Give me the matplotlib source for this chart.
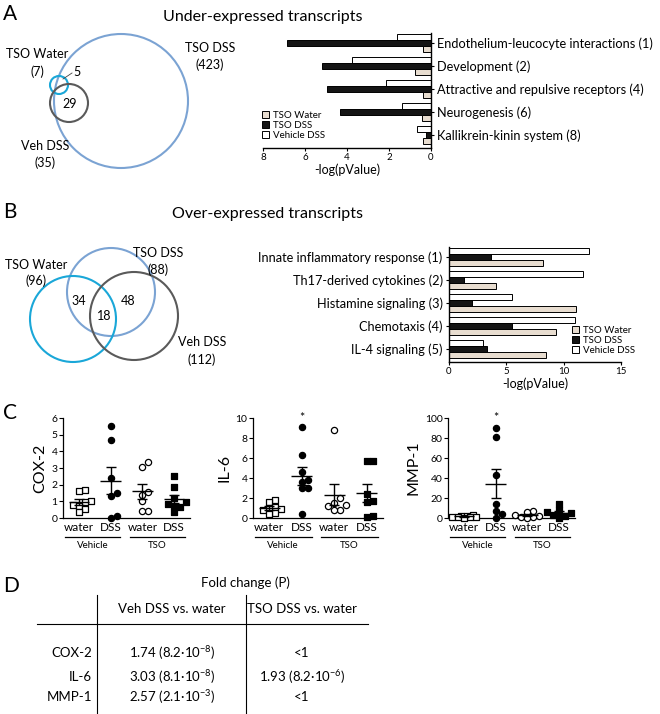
import matplotlib
matplotlib.use("Agg")
import matplotlib.pyplot as plt
import matplotlib.transforms as mtrans
from matplotlib.patches import Circle, Patch
import numpy as np

plt.rcParams['font.family'] = ['Lato', 'DejaVu Sans']
plt.rcParams['mathtext.default'] = 'regular'

# ---------------- data ----------------
# A: under-expressed pathways, -log(pValue)
cats_a = ['Endothelium-leucocyte interactions (1)', 'Development (2)',
          'Attractive and repulsive receptors (4)', 'Neurogenesis (6)',
          'Kallikrein-kinin system (8)']
a_tso_water = [0.38, 0.76, 0.38, 0.43, 0.38]
a_tso_dss = [6.85, 5.2, 4.95, 4.33, 0.24]
a_veh_dss = [1.6, 3.76, 2.14, 1.38, 0.67]

# B: over-expressed pathways, -log(pValue)
cats_b = ['Innate inflammatory response (1)', 'Th17-derived cytokines (2)',
          'Histamine signaling (3)', 'Chemotaxis (4)', 'IL-4 signaling (5)']
b_tso_water = [8.2, 4.1, 11.1, 9.3, 8.5]
b_tso_dss = [3.7, 1.3, 2.0, 5.5, 3.3]
b_veh_dss = [12.2, 11.7, 5.5, 11.0, 3.0]

# C: qPCR fold changes per mouse (Vehicle water, Vehicle DSS, TSO water, TSO DSS)
cox2 = [[1.7, 1.65, 1.05, 0.95, 0.8, 0.75, 0.55, 0.35],
        [5.5, 4.7, 2.4, 1.5, 1.3, 0.15, 0.02],
        [3.35, 3.05, 1.55, 1.4, 1.0, 0.45, 0.45],
        [2.5, 1.85, 1.2, 0.95, 0.85, 0.75, 0.65, 0.35]]
il6 = [[1.8, 1.6, 1.1, 1.0, 0.9, 0.8, 0.5, 0.4],
       [9.1, 6.3, 4.6, 3.8, 3.6, 3.0, 3.0, 0.45],
       [8.8, 2.0, 1.5, 1.3, 1.25, 0.8, 0.8],
       [5.7, 5.7, 2.4, 1.7, 1.6, 0.2, 0.1]]
mmp1 = [[3.0, 2.5, 2.0, 1.5, 1.5, 1.0, 1.0, 0.5],
        [90, 81, 43, 14, 7, 4.5, 0.5],
        [7, 6.5, 3.5, 2.5, 1.5, 1.0, 0.5],
        [14, 8, 6, 5, 3, 2, 0.5]]
group_ticks = ['water', 'DSS', 'water', 'DSS']

# D: fold change table
table_rows = ['COX-2', 'IL-6', 'MMP-1']
table_cols = ['Veh DSS vs. water', 'TSO DSS vs. water']
table_veh = ['1.74 (8.2·10$^{-8}$)', '3.03 (8.1·10$^{-8}$)', '2.57 (2.1·10$^{-3}$)']
table_tso = ['<1', '1.93 (8.2·10$^{-6}$)', '<1']

# ---------------- figure ----------------
W, H = 660, 714
fig = plt.figure(figsize=(W / 100, H / 100), dpi=100)

def px_axes(l, t, r, b):
    return fig.add_axes([l / W, 1 - b / H, (r - l) / W, (b - t) / H])

ov = fig.add_axes([0, 0, 1, 1])
ov.set_xlim(0, W)
ov.set_ylim(H, 0)
ov.axis('off')

BEIGE = '#e8ddd0'
CYAN = '#1aa7d8'
LBLUE = '#7ba3d3'
DGRAY = '#5a5a5a'

# panel letters and titles
for letter, (x, y) in zip('ABCD', [(3, 14), (3, 212), (3, 413), (3, 586)]):
    ov.text(x, y, letter, fontsize=15, va='center', ha='left')
ov.text(263, 17, 'Under-expressed transcripts', fontsize=11.5, ha='center', va='center')
ov.text(267, 214, 'Over-expressed transcripts', fontsize=11.5, ha='center', va='center')

# ---- Venn A ----
for (cx, cy, r, col) in [(121, 101, 67, LBLUE), (59, 85, 9, CYAN), (69, 103, 19, DGRAY)]:
    ov.add_patch(Circle((cx, cy), r, fill=False, ec=col, lw=1.5))
vfs = 9
ov.text(37, 54, 'TSO Water', fontsize=vfs, ha='center', va='center')
ov.text(37, 72, '(7)', fontsize=vfs, ha='center', va='center')
ov.text(210, 48, 'TSO DSS', fontsize=vfs, ha='center', va='center')
ov.text(210, 65, '(423)', fontsize=vfs, ha='center', va='center')
ov.text(45, 146, 'Veh DSS', fontsize=vfs, ha='center', va='center')
ov.text(45, 163, '(35)', fontsize=vfs, ha='center', va='center')
ov.text(70, 104, '29', fontsize=vfs, ha='center', va='center')
ov.text(77, 72, '5', fontsize=vfs, ha='center', va='center')
ov.plot([63, 72], [79, 73], color='#444444', lw=0.6)

# ---- Venn B ----
for (cx, cy, r, col) in [(111, 292, 44, LBLUE), (73, 319, 43, CYAN), (134, 316, 44, DGRAY)]:
    ov.add_patch(Circle((cx, cy), r, fill=False, ec=col, lw=1.5))
ov.text(36, 265, 'TSO Water', fontsize=vfs, ha='center', va='center')
ov.text(36, 281, '(96)', fontsize=vfs, ha='center', va='center')
ov.text(158, 253, 'TSO DSS', fontsize=vfs, ha='center', va='center')
ov.text(158, 270, '(88)', fontsize=vfs, ha='center', va='center')
ov.text(202, 342, 'Veh DSS', fontsize=vfs, ha='center', va='center')
ov.text(202, 360, '(112)', fontsize=vfs, ha='center', va='center')
ov.text(79, 301, '34', fontsize=vfs, ha='center', va='center')
ov.text(128, 301, '48', fontsize=vfs, ha='center', va='center')
ov.text(104, 316, '18', fontsize=vfs, ha='center', va='center')

# ---- bar charts ----
def pathway_bars(ax, cats, water, dss, veh):
    y = np.arange(len(cats))
    off, h = 0.26, 0.22
    ax.barh(y - off, veh, height=h, color='white', edgecolor='black', lw=0.7)
    ax.barh(y, dss, height=h, color='#151515', edgecolor='black', lw=0.7)
    ax.barh(y + off, water, height=h, color=BEIGE, edgecolor='black', lw=0.7)
    ax.set_ylim(len(cats) - 0.435, -0.435)
    ax.set_yticks(y)
    ax.set_yticklabels(cats, fontsize=9.2)
    ax.spines['top'].set_visible(False)
    ax.tick_params(axis='x', labelsize=7, length=2.5, pad=1, width=0.8)
    ax.tick_params(axis='y', length=2.5, pad=2, width=0.8)
    for s in ax.spines.values():
        s.set_linewidth(1.0)
    ax.set_xlabel('-log(pValue)', fontsize=9, labelpad=1.5)
    ax.patch.set_alpha(0)

legend_handles = [Patch(facecolor=BEIGE, edgecolor='black', lw=0.7, label='TSO Water'),
                  Patch(facecolor='#151515', edgecolor='black', lw=0.7, label='TSO DSS'),
                  Patch(facecolor='white', edgecolor='black', lw=0.7, label='Vehicle DSS')]
leg_kw = dict(frameon=False, fontsize=7, handlelength=0.7, handleheight=0.7,
              handletextpad=0.4, labelspacing=0.1, borderpad=0, borderaxespad=0)

axa = px_axes(263, 33, 431, 148)
pathway_bars(axa, cats_a, a_tso_water, a_tso_dss, a_veh_dss)
axa.set_xlim(8, 0)
axa.set_xticks([8, 6, 4, 2, 0])
axa.spines['left'].set_visible(False)
axa.yaxis.tick_right()
fig.legend(handles=legend_handles, loc='upper left',
           bbox_to_anchor=(262 / W, 1 - 111 / H), **leg_kw)

axb = px_axes(449, 247, 621, 362)
pathway_bars(axb, cats_b, b_tso_water, b_tso_dss, b_veh_dss)
axb.set_xlim(0, 15)
axb.set_xticks([0, 5, 10, 15])
axb.spines['right'].set_visible(False)
fig.legend(handles=legend_handles, loc='upper left',
           bbox_to_anchor=(572 / W, 1 - 326 / H), **leg_kw)

# ---- dot plots ----
def swarm(vals, px_y, px_x, d=6.0, max_px=13):
    vals = np.asarray(vals, float)
    placed = []
    off = np.zeros(len(vals))
    cands = [0.0]
    k = 1
    while k * d * 0.5 <= max_px:
        cands += [k * d * 0.5, -k * d * 0.5]
        k += 1
    for i in np.argsort(vals):
        yy = vals[i] * px_y
        best, best_gap = 0.0, -1
        for c in cands:
            gap = min([np.hypot(c - px, yy - py) for px, py in placed] + [1e9])
            if gap >= d:
                best = c
                break
            if gap > best_gap:
                best, best_gap = c, gap
        placed.append((best, yy))
        off[i] = best
    return off / px_x

styles = [('s', 'white'), ('o', 'black'), ('o', 'white'), ('s', 'black')]

def dot_panel(box, groups, ymax, yticks, ylabel, star=False):
    ax = px_axes(*box)
    xlim = (-0.5, 3.5)
    px_x = (box[2] - box[0]) / (xlim[1] - xlim[0])
    px_y = (box[3] - box[1]) / ymax
    for i, (vals, (mk, fc)) in enumerate(zip(groups, styles)):
        v = np.array(vals, float)
        xs = i + swarm(v, px_y, px_x)
        ax.scatter(xs, v, marker=mk, s=20, facecolor=fc, edgecolor='black',
                   lw=0.9, clip_on=False, zorder=3)
        m = v.mean()
        se = v.std(ddof=1) / np.sqrt(len(v))
        ax.hlines(m, i - 0.32, i + 0.32, color='black', lw=1.0, zorder=4)
        ax.errorbar(i, m, yerr=se, fmt='none', ecolor='black', elinewidth=1.0,
                    capsize=3.5, capthick=1.0, zorder=4)
    ax.set_xlim(*xlim)
    ax.set_ylim(0, ymax)
    ax.set_yticks(yticks)
    ax.set_xticks(range(4))
    ax.set_xticklabels(group_ticks, fontsize=8.5)
    ax.tick_params(axis='x', length=0, pad=3)
    ax.tick_params(axis='y', labelsize=7.5, length=3, pad=1, width=0.8)
    for s in ['top', 'right']:
        ax.spines[s].set_visible(False)
    for s in ['left', 'bottom']:
        ax.spines[s].set_linewidth(0.9)
    ax.set_ylabel(ylabel, fontsize=11.5, labelpad=3)
    tr = mtrans.blended_transform_factory(ax.transData, ax.transAxes)
    for (a, b), name in zip([(-0.45, 1.3), (1.6, 3.35)], ['Vehicle', 'TSO']):
        ax.plot([a, b], [-0.19, -0.19], color='black', lw=0.9, transform=tr, clip_on=False)
        ax.text((a + b) / 2, -0.28, name, fontsize=7, ha='center', va='center', transform=tr)
    if star:
        ax.text(1, ymax, '*', fontsize=9, ha='center', va='center')
    ax.patch.set_alpha(0)
    return ax

dot_panel((63, 418, 190, 518), cox2, 6, range(0, 7), 'COX-2')
dot_panel((253, 418, 383, 518), il6, 10, range(0, 11, 2), 'IL-6', star=True)
dot_panel((448, 418, 575, 518), mmp1, 100, range(0, 101, 20), 'MMP-1', star=True)

# ---- table D ----
tfs = 9.5
ov.text(245, 583, 'Fold change (P)', fontsize=tfs, ha='center', va='center')
ov.plot([97, 97], [595, 713], color='black', lw=0.8)
ov.plot([246, 246], [595, 713], color='black', lw=0.8)
ov.plot([37, 368], [624, 624], color='black', lw=0.8)
ov.text(172, 609, table_cols[0], fontsize=tfs, ha='center', va='center')
ov.text(302, 609, table_cols[1], fontsize=tfs, ha='center', va='center')
for name, v1, v2, yy in zip(table_rows, table_veh, table_tso, [653, 677, 697]):
    ov.text(92, yy, name, fontsize=tfs, ha='right', va='center')
    ov.text(172, yy, v1, fontsize=tfs, ha='center', va='center')
    ov.text(302, yy, v2, fontsize=tfs, ha='center', va='center')

fig.savefig('out.png', dpi=100)
